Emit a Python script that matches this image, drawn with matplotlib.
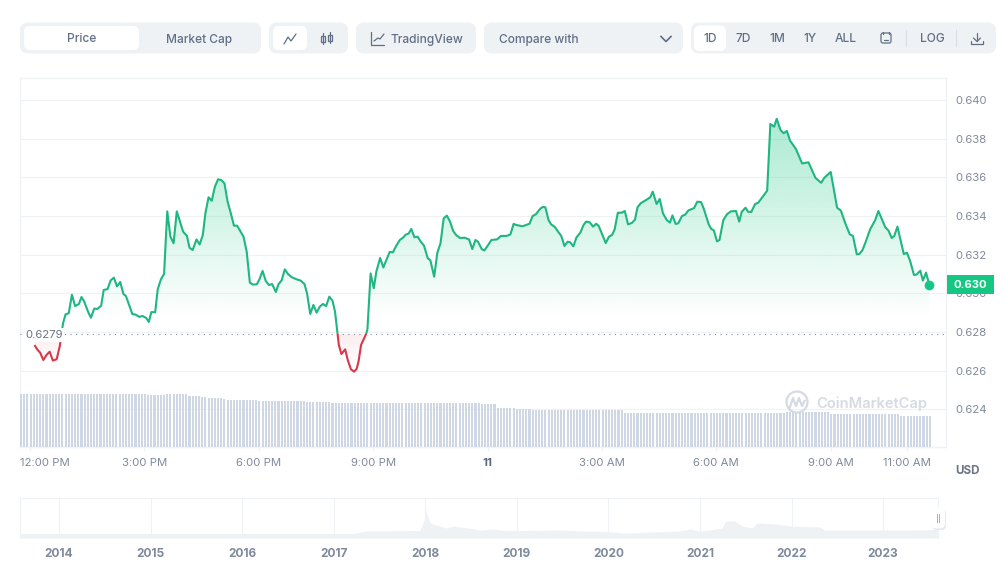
import numpy as np
import matplotlib
matplotlib.use('Agg')
import matplotlib.pyplot as plt
from matplotlib.patches import FancyBboxPatch, Rectangle, PathPatch, Circle
from matplotlib.path import Path
from matplotlib.transforms import ScaledTranslation

plt.rcParams['font.family'] = ['Inter', 'DejaVu Sans']

# price line: minutes after 12:00 PM and price in USD
minutes = [8, 12, 16, 21, 26, 31, 36, 42, 47, 52, 56, 61, 66, 71, 77, 81, 85, 92, 96, 101, 106, 112, 116, 122, 127,
           132, 137, 142, 147, 151, 161, 166, 172, 177, 183, 187, 191, 197, 201, 206, 211, 216, 221, 226, 231, 237,
           241, 247, 251, 256, 262, 267, 272, 276, 281, 286, 291, 296, 301, 306, 311, 316, 321, 326, 336, 341, 346,
           351, 357, 361, 366, 371, 376, 381, 387, 391, 396, 401, 406, 412, 420, 426, 432, 436, 441, 446, 451, 456,
           461, 466, 471, 476, 480, 484, 486, 490, 496, 500, 505, 510, 514, 517, 521, 529, 531, 536, 541, 545, 551,
           556, 566, 571, 577, 582, 587, 591, 596, 600, 605, 610, 615, 620, 626, 630, 636, 641, 646, 651, 656, 661,
           666, 671, 677, 684, 691, 696, 701, 705, 711, 715, 721, 726, 735, 741, 750, 756, 761, 766, 775, 786, 791,
           796, 803, 807, 811, 816, 820, 826, 831, 836, 841, 846, 850, 855, 860, 866, 871, 875, 881, 886, 891, 895,
           906, 911, 916, 920, 925, 931, 936, 941, 947, 952, 956, 961, 971, 976, 980, 986, 991, 996, 1002, 1007,
           1011, 1016, 1020, 1026, 1031, 1036, 1045, 1050, 1056, 1060, 1068, 1072, 1076, 1081, 1085, 1091, 1097,
           1103, 1111, 1116, 1120, 1126, 1130, 1135, 1141, 1146, 1160, 1165, 1171, 1175, 1181, 1186, 1191, 1196,
           1205, 1215, 1225, 1236, 1245, 1250, 1260, 1270, 1276, 1283, 1290, 1295, 1301, 1305, 1310, 1315, 1322,
           1330, 1335, 1346, 1351, 1356, 1360, 1365, 1375, 1380, 1385, 1391, 1395, 1401, 1405, 1410, 1415]
prices = [.62728, .62707, .62693, .62655, .62681, .62698, .62652, .62659, .62728, .62845, .62891, .62897, .62993,
          .62934, .62945, .62981, .62960, .62900, .62874, .62921, .62919, .62936, .63017, .63022, .63067, .63081,
          .63036, .63059, .62997, .62986, .62893, .62890, .62878, .62883, .62872, .62852, .62903, .62902, .63021,
          .63072, .63100, .63424, .63293, .63259, .63424, .63362, .63319, .63297, .63236, .63224, .63279, .63253,
          .63302, .63414, .63497, .63479, .63552, .63590, .63586, .63569, .63474, .63414, .63350, .63350, .63293,
          .63216, .63055, .63045, .63047, .63072, .63116, .63064, .63043, .63048, .63007, .63047, .63067, .63124,
          .63100, .63083, .63072, .63066, .63048, .63000, .62893, .62940, .62900, .62931, .62945, .62934, .62983,
          .62962, .62905, .62793, .62733, .62686, .62710, .62655, .62607, .62595, .62609, .62647, .62733, .62790,
          .62814, .63103, .63026, .63112, .63183, .63134, .63214, .63212, .63250, .63276, .63288, .63303, .63310,
          .63333, .63290, .63293, .63267, .63247, .63181, .63171, .63086, .63210, .63259, .63388, .63402, .63371,
          .63322, .63300, .63286, .63288, .63278, .63229, .63276, .63267, .63228, .63222, .63250, .63276, .63279,
          .63297, .63297, .63305, .63359, .63353, .63347, .63360, .63400, .63409, .63438, .63447, .63445, .63379,
          .63357, .63343, .63319, .63297, .63245, .63267, .63264, .63243, .63290, .63314, .63353, .63371, .63367,
          .63345, .63360, .63348, .63260, .63293, .63302, .63331, .63417, .63417, .63426, .63357, .63364, .63381,
          .63445, .63466, .63486, .63497, .63526, .63462, .63488, .63414, .63379, .63366, .63403, .63359, .63362,
          .63400, .63407, .63429, .63441, .63474, .63472, .63440, .63357, .63333, .63326, .63269, .63276, .63379,
          .63410, .63424, .63426, .63371, .63422, .63443, .63422, .63421, .63462, .63469, .63531, .63876, .63862,
          .63903, .63845, .63828, .63840, .63790, .63748, .63672, .63678, .63597, .63572, .63598, .63628, .63443,
          .63428, .63362, .63305, .63297, .63202, .63203, .63224, .63266, .63331, .63379, .63426, .63341, .63324,
          .63286, .63297, .63345, .63203, .63210, .63167, .63095, .63097, .63117, .63066, .63107, .63045]
base_price = 0.6279

# volume bars every 5 minutes, height is relative (no axis in the chart)
volume_counts = [40, 6, 7, 4, 2, 5, 1, 10, 15, 8, 47, 5, 6, 5, 29, 51, 14, 22, 10]
volume_levels = [53, 52, 53, 51, 50, 49, 48, 47, 46, 45, 44, 43, 39.5, 38, 37, 33.7, 34.7, 33, 31.5]

y_ticks = [0.624, 0.626, 0.628, 0.630, 0.632, 0.634, 0.636, 0.638, 0.640]
x_ticks = [0, 180, 360, 540, 720, 900, 1080, 1260, 1380]
x_labels = ['12:00 PM', '3:00 PM', '6:00 PM', '9:00 PM', '11', '3:00 AM', '6:00 AM', '9:00 AM', '11:00 AM']

# navigator: whole history, year and price
nav_years = [2013.574, 2017.21, 2017.36, 2017.94, 2017.99, 2018.0, 2018.02, 2018.05, 2018.08, 2018.16, 2018.23, 2018.30,
             2018.46, 2018.6, 2018.74, 2018.82, 2019.0, 2019.42, 2020.0, 2020.18, 2020.78, 2020.89, 2021.0, 2021.11,
             2021.24, 2021.28, 2021.38, 2021.46, 2021.57, 2021.62, 2021.82, 2022.0, 2022.31, 2022.36, 2023.0, 2023.24,
             2023.6]
nav_prices = [.1, .1, .35, .4, 1.45, 2.75, 1.95, 1.25, 1.05, .85, .65, .85, .65, .45, .55, .45, .38, .45, .28, .15, .35,
              .55, .35, .45, .65, 1.35, 1.35, .85, .65, 1.15, 1.05, .85, .75, .45, .45, .45, .5]
nav_ticks = [2014, 2015, 2016, 2017, 2018, 2019, 2020, 2021, 2022, 2023]

GREEN = '#16c784'
LINE_GREEN = '#1fb682'
RED = '#d8384a'
GRID = '#eff2f5'
GREY = '#808a9d'
BTN_TEXT = '#616e85'

fig = plt.figure(figsize=(10.05, 5.71), dpi=100, facecolor='white')


def px_axes(left, top, right, bottom, **kw):
    return fig.add_axes([left / 1005, (571 - bottom) / 571, (right - left) / 1005, (bottom - top) / 571], **kw)


def button(ax, x0, y0, x1, y1, color, r=7):
    ax.add_patch(FancyBboxPatch((x0 + r, y0 + r), x1 - x0 - 2 * r, y1 - y0 - 2 * r,
                                boxstyle='round,pad=%d,rounding_size=%d' % (r, r), fc=color, ec='none'))


# top button row, laid out in pixels
ui = fig.add_axes([0, 0, 1, 1], zorder=0)
ui.set_xlim(0, 1005)
ui.set_ylim(571, 0)
ui.axis('off')
for x0, x1 in [(20, 261), (269, 348), (356, 476), (484, 683), (691, 996)]:
    button(ui, x0, 22.5, x1, 53.5, GRID, 8)
button(ui, 24, 26, 139, 50, 'white', 6)
button(ui, 273, 26, 307, 50, 'white', 6)
button(ui, 694, 25.5, 726, 51, 'white', 6)

for x, s in [(82, 'Price'), (199.5, 'Market Cap'), (427, 'TradingView'), (539, 'Compare with'), (710, '1D'),
             (743, '7D'), (777, '1M'), (810, '1Y'), (846, 'ALL'), (932, 'LOG')]:
    ui.text(x, 39.5, s, ha='center', va='center', fontsize=8.6, fontweight='medium', color=BTN_TEXT)

# small icons
icon = dict(color=BTN_TEXT, lw=0.9, solid_capstyle='round')
ui.plot([284, 288, 291, 296], [44, 37, 41, 34], **icon)
ui.plot([323, 323], [33, 44], **icon)
ui.plot([330, 330], [32, 43], **icon)
ui.add_patch(Rectangle((321, 36), 4, 6, fc=GRID, ec=BTN_TEXT, lw=0.9))
ui.add_patch(Rectangle((328, 35), 4, 6, fc=GRID, ec=BTN_TEXT, lw=0.9))
ui.plot([371, 371, 384], [32, 45, 45], **icon)
ui.plot([374, 378, 380, 384], [41, 38, 39, 34], **icon)
ui.plot([661, 666, 671], [36.5, 41.5, 36.5], color=BTN_TEXT, lw=1.2)
ui.add_patch(FancyBboxPatch((881, 33), 10, 10, boxstyle='round,pad=0,rounding_size=2', fc='none', ec=BTN_TEXT, lw=0.9))
ui.plot([884, 888], [40, 40], **icon)
ui.plot([883, 883], [32, 34], **icon)
ui.plot([889, 889], [32, 34], **icon)
ui.plot([906, 906], [30, 46], color='#d9dee6', lw=0.8)
ui.plot([956, 956], [30, 46], color='#d9dee6', lw=0.8)
ui.plot([977, 977], [33, 41], **icon)
ui.plot([973.5, 977, 980.5], [38, 41.5, 38], **icon)
ui.plot([971, 971, 983, 983], [41, 44, 44, 41], **icon)

# main chart
ax = px_axes(20, 78, 946, 447, zorder=1)
ax.patch.set_alpha(0)
xlim = (-15.7, 1441.4)
ylim = (0.62205, 0.64114)
ax.set_xlim(xlim)
ax.set_ylim(ylim)

# volume on its own scale
vol = ax.twinx()
vol.set_ylim(0, 369)
vol.set_yticks([])
for side in vol.spines:
    vol.spines[side].set_visible(False)
volume = np.repeat(volume_levels, volume_counts)
vol_x = -14 + 5 * np.arange(len(volume))
vol.bar(vol_x, volume, width=3.3, color='#cfd6e4', lw=0)

# gridlines and frame, twinx flips the ticks so do this after it
ax.yaxis.tick_right()
ax.set_yticks(y_ticks)
ax.set_yticklabels(['%.3f' % v for v in y_ticks])
ax.grid(axis='y', color=GRID, lw=0.8)
ax.set_axisbelow(True)
ax.tick_params(axis='y', length=0, pad=7, labelsize=8.2, labelcolor=GREY)
ax.set_xticks(x_ticks)
ax.set_xticklabels(x_labels)
ax.tick_params(axis='x', length=3, width=0.8, color=GRID, pad=5, labelsize=8.2, labelcolor=GREY)
for side in ax.spines:
    ax.spines[side].set_color(GRID)
    ax.spines[side].set_linewidth(1)

# first label is pushed right so it stays inside the chart, "11" is the day mark
labels = ax.get_xticklabels()
labels[0].set_transform(labels[0].get_transform() + ScaledTranslation(0.15, 0, fig.dpi_scale_trans))
labels[4].set_fontweight('bold')
labels[4].set_color('#58667e')

# gradient fills, cut to the area between the line and the base price
line_x = np.array(minutes)
line_y = np.array(prices)
outline = np.vstack([[line_x[0], base_price], np.column_stack([line_x, line_y]), [line_x[-1], base_price],
                     [line_x[0], base_price]])
top_fade = 0.6286
green_img = np.zeros((256, 1, 4))
green_img[..., :3] = matplotlib.colors.to_rgb(GREEN)
green_img[:, 0, 3] = np.linspace(0.36, 0, 256)
red_img = np.zeros((256, 1, 4))
red_img[..., :3] = matplotlib.colors.to_rgb(RED)
red_img[:, 0, 3] = np.linspace(0.09, 0, 256)
for img, extent in [(green_img, (xlim[0], xlim[1], top_fade, max(prices))),
                    (red_img, (xlim[0], xlim[1], min(prices), base_price))]:
    im = ax.imshow(img, extent=extent, aspect='auto', origin='upper', zorder=2)
    clip = PathPatch(Path(outline), transform=ax.transData, fc='none', ec='none')
    ax.add_patch(clip)
    im.set_clip_path(clip)
ax.set_xlim(xlim)
ax.set_ylim(ylim)

# same line twice, green above the base price and red below it
upper, = ax.plot(minutes, prices, color=LINE_GREEN, lw=1.5, zorder=4)
lower, = ax.plot(minutes, prices, color=RED, lw=1.5, zorder=4)
upper.set_clip_path(Rectangle((xlim[0], base_price), xlim[1] - xlim[0], ylim[1] - base_price, transform=ax.transData))
lower.set_clip_path(Rectangle((xlim[0], ylim[0]), xlim[1] - xlim[0], base_price - ylim[0], transform=ax.transData))
ax.plot(minutes[-1], prices[-1], 'o', color=GREEN, ms=7, mew=0, zorder=5)

ax.axhline(base_price, color='#858ca2', lw=0.8, ls=(0, (1, 4)), zorder=3)
ax.text(22, base_price - 0.00005, '%.4f' % base_price, ha='center', va='center', fontsize=8.2, color='#6b7488',
        zorder=6, bbox=dict(fc='white', ec='none', pad=1.2))

# bits that sit over everything
top = fig.add_axes([0, 0, 1, 1], zorder=5)
top.set_xlim(0, 1005)
top.set_ylim(571, 0)
top.axis('off')
top.patch.set_alpha(0)
top.add_patch(Rectangle((947, 275), 47, 18.5, fc=GREEN, ec='none'))
top.text(970.5, 284.5, '0.630', ha='center', va='center', fontsize=8.2, fontweight='bold', color='white')
top.text(967, 471, 'USD', ha='center', va='center', fontsize=8.4, fontweight='bold', color='#6b7488')

# watermark
top.add_patch(Circle((797, 402), 10.5, fc='none', ec='#d5dae3', lw=1.6))
top.plot([790, 793, 796, 799, 802, 804.5], [407, 398, 406, 398, 406, 401], color='#d5dae3', lw=1.6)
top.text(871.5, 403.5, 'CoinMarketCap', ha='center', va='center', fontsize=10.6, fontweight='semibold', color='#d5dae3')

# navigator
nav = px_axes(20, 498, 938, 538, zorder=1)
nav.set_xlim(2013.574, 2023.6)
nav.set_ylim(-0.35, 3.65)
nav.fill_between(nav_years, nav_prices, -0.35, color=GRID, lw=0)
nav.set_yticks([])
nav.set_xticks(nav_ticks)
nav.set_xticklabels([str(y) for y in nav_ticks])
nav.grid(axis='x', color=GRID, lw=0.8)
nav.set_axisbelow(True)
nav.tick_params(axis='x', length=0, pad=7, labelsize=8.6, labelcolor=GREY)
for label in nav.get_xticklabels():
    label.set_fontweight('bold')
for side in nav.spines:
    nav.spines[side].set_color(GRID)
nav.spines['bottom'].set_visible(False)

# navigator handle
button(top, 932, 509, 946, 530, '#e3e6eb', 5)
button(top, 931, 507.5, 945, 528.5, 'white', 5)
top.plot([936.8, 936.8], [514, 522], color='#a6b0c3', lw=0.7)
top.plot([939.2, 939.2], [514, 522], color='#a6b0c3', lw=0.7)

fig.savefig('out.png', dpi=100)
